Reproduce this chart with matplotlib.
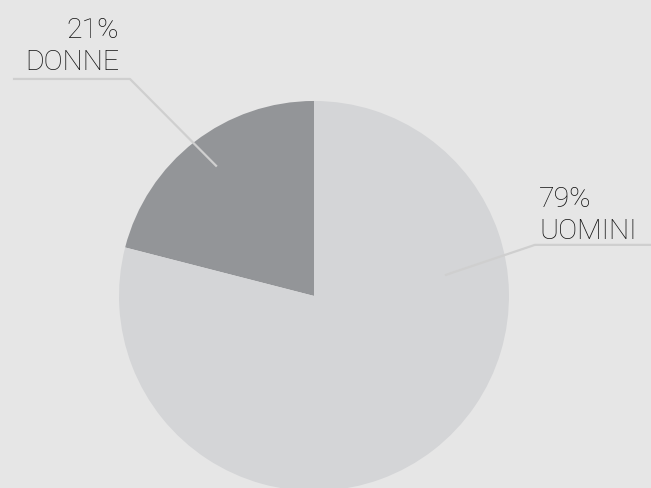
import numpy as np
import matplotlib
matplotlib.use('Agg')
import matplotlib.pyplot as plt

# dati
categorie = ['DONNE', 'UOMINI']
percentuali = [21, 79]
colori = ['#939598', '#d4d5d7']

sfondo = '#e6e6e6'
linea = '#cfcfcf'

fig = plt.figure(figsize=(6.51, 4.89), dpi=100, facecolor=sfondo)
ax = fig.add_axes([0, 0, 1, 1])
ax.set_facecolor(sfondo)

ax.pie(percentuali, colors=colori, startangle=90, counterclock=True,
       radius=1, center=(0, 0), wedgeprops={'linewidth': 0})

ax.set_xlim(-1.610, 1.728)
ax.set_ylim(-0.985, 1.523)
ax.set_aspect('equal')
ax.axis('off')

# posizioni delle etichette (angolo e raggio del punto d'attacco, gomito, fine linea)
etichette = {
    'DONNE': dict(ang=126.9, r=0.83, gomito=(-0.944, 1.113), fine=-1.544,
                  testo=(-1.0, 1.164), ha='right'),
    'UOMINI': dict(ang=9.0, r=0.68, gomito=(1.133, 0.262), fine=1.75,
                   testo=(1.154, 0.297), ha='left'),
}

for cat, pct in zip(categorie, percentuali):
    e = etichette[cat]
    a = np.deg2rad(e['ang'])
    x0, y0 = e['r'] * np.cos(a), e['r'] * np.sin(a)
    gx, gy = e['gomito']
    ax.plot([x0, gx, e['fine']], [y0, gy, gy], color=linea, lw=1.6,
            solid_capstyle='butt', zorder=3)
    ax.text(e['testo'][0], e['testo'][1], f'{pct}%\n{cat}', ha=e['ha'],
            va='baseline', fontsize=20.5, family=['Roboto', 'DejaVu Sans'],
            fontweight='light', color='#111111', linespacing=1.22, zorder=4)

fig.savefig('out.png', dpi=100, facecolor=sfondo)
